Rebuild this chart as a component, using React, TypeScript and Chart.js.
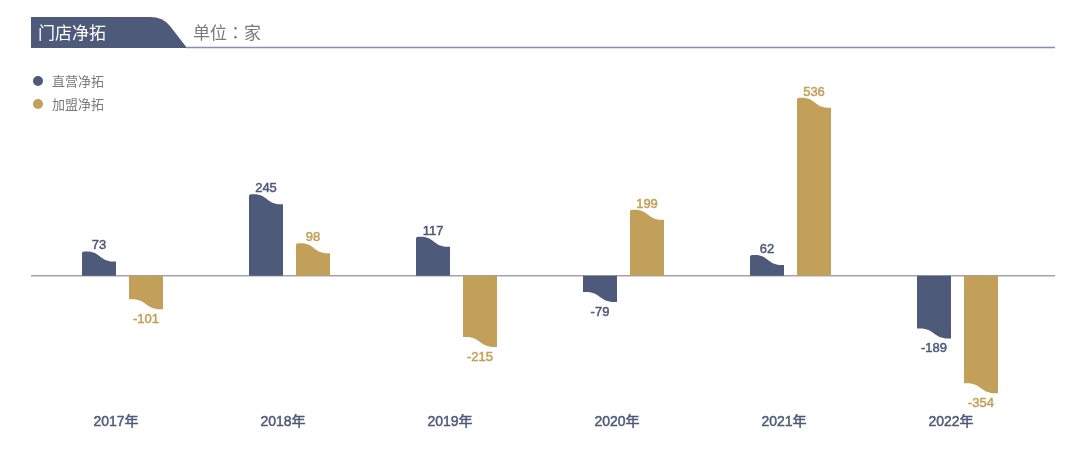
import React, { useEffect, useRef } from "react";
import { Chart, registerables } from "chart.js";

Chart.register(...registerables);

const categories = ["2017年", "2018年", "2019年", "2020年", "2021年", "2022年"];
const directNet = [73, 245, 117, -79, 62, -189];
const franchiseNet = [-101, 98, -215, 199, 536, -354];
const seriesNames = ["直营净拓", "加盟净拓"];
const titleText = "门店净拓";
const unitText = "单位：家";

const NAVY = "#4e5a7a";
const GOLD = "#c3a05a";
const FONT = "'Liberation Sans', 'Noto Sans CJK SC', sans-serif";
const CJK = "'Noto Sans CJK SC', 'Liberation Sans', sans-serif";

function wave(ctx: CanvasRenderingContext2D, ax: number, ay: number, bx: number, by: number) {
  const w = bx - ax;
  ctx.lineTo(ax + 0.1 * w, ay);
  ctx.bezierCurveTo(ax + 0.5 * w, ay, ax + 0.5 * w, by, ax + 0.92 * w, by);
  ctx.lineTo(bx, by);
}

function heavyText(ctx: CanvasRenderingContext2D, t: string, x: number, y: number, color: string) {
  ctx.fillStyle = color;
  ctx.strokeStyle = color;
  ctx.lineWidth = 0.5;
  ctx.fillText(t, x, y);
  ctx.strokeText(t, x, y);
}

const decorPlugin = {
  id: "decor",
  beforeDatasetsDraw(chart: any) {
    const ctx: CanvasRenderingContext2D = chart.ctx;
    const yScale = chart.scales.y;
    const z = yScale.getPixelForValue(0);
    ctx.save();
    // header
    ctx.fillStyle = NAVY;
    ctx.beginPath();
    ctx.moveTo(31, 17);
    ctx.lineTo(150, 17);
    ctx.quadraticCurveTo(163, 17, 170, 26);
    ctx.lineTo(187, 48);
    ctx.lineTo(31, 48);
    ctx.closePath();
    ctx.fill();
    ctx.strokeStyle = "#8590ae";
    ctx.lineWidth = 1.5;
    ctx.beginPath();
    ctx.moveTo(186, 47.5);
    ctx.lineTo(1055, 47.5);
    ctx.stroke();
    ctx.font = `17px ${CJK}`;
    ctx.textBaseline = "middle";
    ctx.textAlign = "left";
    ctx.fillStyle = "#ffffff";
    ctx.fillText(titleText, 38, 33);
    ctx.fillStyle = "#7a7a7a";
    ctx.font = `17px 'Noto Sans CJK TC', 'Noto Sans CJK SC', sans-serif`;
    ctx.fillText(unitText, 193, 33);
    // legend
    const colors = [NAVY, GOLD];
    ctx.font = `13px ${CJK}`;
    seriesNames.forEach((name, i) => {
      const cy = 81 + i * 23;
      ctx.fillStyle = colors[i];
      ctx.beginPath();
      ctx.arc(38, cy, 5, 0, Math.PI * 2);
      ctx.fill();
      ctx.fillStyle = "#7a7a7a";
      ctx.fillText(name, 52, cy);
    });
    // zero line
    ctx.strokeStyle = "#a3a3ab";
    ctx.lineWidth = 1.5;
    ctx.beginPath();
    ctx.moveTo(31, z);
    ctx.lineTo(1055, z);
    ctx.stroke();
    ctx.restore();
  },
  afterDatasetsDraw(chart: any) {
    const ctx: CanvasRenderingContext2D = chart.ctx;
    const D = 10;
    const colors = [NAVY, GOLD];
    ctx.save();
    chart.data.datasets.forEach((ds: any, d: number) => {
      const meta = chart.getDatasetMeta(d);
      meta.data.forEach((bar: any, i: number) => {
        const { x, y, base, width } = bar.getProps(["x", "y", "base", "width"], true);
        const v = ds.data[i] as number;
        const x0 = x - width / 2;
        const x1 = x + width / 2;
        ctx.fillStyle = colors[d];
        ctx.beginPath();
        ctx.moveTo(x0, base);
        if (v >= 0) {
          ctx.lineTo(x0, y + 1.5);
          ctx.quadraticCurveTo(x0, y, x0 + 2, y);
          wave(ctx, x0 + 2, y, x1, y + D);
        } else {
          ctx.lineTo(x0, y - D);
          wave(ctx, x0, y - D, x1, y);
        }
        ctx.lineTo(x1, base);
        ctx.closePath();
        ctx.fill();
        ctx.font = `13px ${FONT}`;
        ctx.textAlign = "center";
        ctx.textBaseline = "alphabetic";
        if (v >= 0) heavyText(ctx, String(v), x, y - 2, colors[d]);
        else heavyText(ctx, String(v), x, y + 14, colors[d]);
      });
    });
    // x labels
    const xScale = chart.scales.x;
    ctx.font = `14px ${FONT}`;
    ctx.textAlign = "center";
    ctx.textBaseline = "alphabetic";
    categories.forEach((c, i) => {
      heavyText(ctx, c, xScale.getPixelForValue(i) - 6.5, 426, NAVY);
    });
    ctx.restore();
  },
};

export default function App() {
  const ref = useRef<HTMLCanvasElement | null>(null);
  useEffect(() => {
    if (!ref.current) return;
    const chart = new Chart(ref.current, {
      type: "bar",
      data: {
        labels: categories,
        datasets: [
          { label: seriesNames[0], data: directNet, backgroundColor: "rgba(0,0,0,0)", categoryPercentage: 0.563, barPercentage: 0.723 },
          { label: seriesNames[1], data: franchiseNet, backgroundColor: "rgba(0,0,0,0)", categoryPercentage: 0.563, barPercentage: 0.723 },
        ],
      },
      options: {
        responsive: false,
        maintainAspectRatio: false,
        animation: false,
        devicePixelRatio: 1,
        layout: { padding: { left: 39, right: 39, top: 76.5, bottom: 32.9 } },
        scales: {
          x: { display: false, grid: { display: false } },
          y: { display: false, min: -450, max: 600, grid: { display: false } },
        },
        plugins: { legend: { display: false }, tooltip: { enabled: false } },
      },
      plugins: [decorPlugin],
    });
    return () => chart.destroy();
  }, []);
  return (
    <div style={{ position: "absolute", left: 0, top: 0, width: 1080, height: 458, background: "#fff" }}>
      <canvas ref={ref} width={1080} height={458} style={{ width: 1080, height: 458 }} />
    </div>
  );
}
